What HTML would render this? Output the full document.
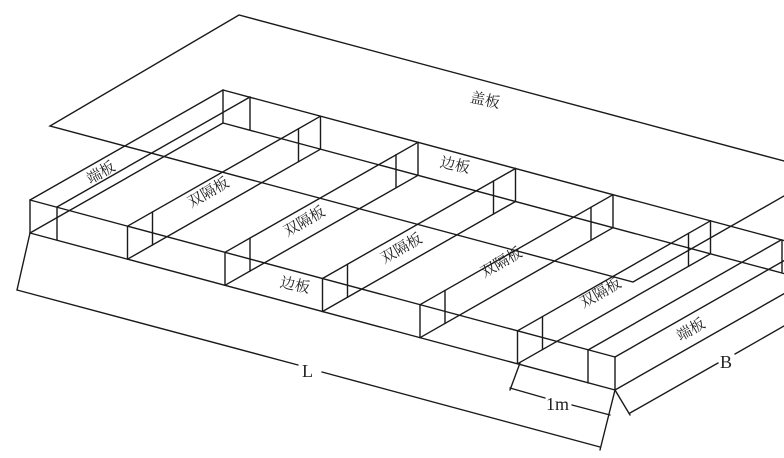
<!DOCTYPE html>
<html><head><meta charset="utf-8"><style>
html,body{margin:0;padding:0;background:#fff;}
svg{display:block;}
text{font-family:"Liberation Serif","Noto Serif CJK SC","Noto Sans CJK SC",serif;fill:#222;}
</style></head><body>
<svg width="784" height="458" viewBox="0 0 784 458" xmlns="http://www.w3.org/2000/svg">
<g stroke="#1a1a1a" stroke-width="1.4" fill="none" stroke-linecap="round">
<polyline points="784,161 239,15 50,126 633,282 784,196"/>
<line x1="30" y1="200" x2="615" y2="357"/>
<line x1="30" y1="233" x2="615" y2="390"/>
<line x1="223" y1="90" x2="808" y2="247"/>
<line x1="223" y1="123" x2="808" y2="280"/>
<line x1="30" y1="200" x2="223" y2="90"/><line x1="30" y1="233" x2="223" y2="123"/>
<line x1="57" y1="207" x2="250" y2="97"/>
<line x1="127.5" y1="226.2" x2="320.5" y2="116.2"/><line x1="127.5" y1="259.2" x2="320.5" y2="149.2"/>
<line x1="225" y1="252.3" x2="418" y2="142.3"/><line x1="225" y1="285.3" x2="418" y2="175.3"/>
<line x1="322.5" y1="278.5" x2="515.5" y2="168.5"/><line x1="322.5" y1="311.5" x2="515.5" y2="201.5"/>
<line x1="420" y1="304.7" x2="613" y2="194.7"/><line x1="420" y1="337.7" x2="613" y2="227.7"/>
<line x1="517.5" y1="330.8" x2="710.5" y2="220.8"/><line x1="517.5" y1="363.8" x2="710.5" y2="253.8"/>
<line x1="615" y1="357" x2="808" y2="247"/><line x1="615" y1="390" x2="808" y2="280"/>
<line x1="588" y1="350" x2="781" y2="240"/>
<line x1="30" y1="200" x2="30" y2="233"/><line x1="57" y1="207" x2="57" y2="240"/>
<line x1="223" y1="90" x2="223" y2="123"/><line x1="250" y1="97" x2="250" y2="130"/>
<line x1="588" y1="350" x2="588" y2="383"/><line x1="615" y1="357" x2="615" y2="390"/>
<line x1="782" y1="240" x2="782" y2="272"/>
<line x1="127.5" y1="226.2" x2="127.5" y2="259.2"/><line x1="152.5" y1="212" x2="152.5" y2="245"/>
<line x1="320.5" y1="116.2" x2="320.5" y2="149.2"/><line x1="298.5" y1="128.7" x2="298.5" y2="161.7"/>
<line x1="225" y1="252.3" x2="225" y2="285.3"/><line x1="250" y1="238.1" x2="250" y2="271.1"/>
<line x1="418" y1="142.3" x2="418" y2="175.3"/><line x1="396" y1="154.8" x2="396" y2="187.8"/>
<line x1="322.5" y1="278.5" x2="322.5" y2="311.5"/><line x1="347.5" y1="264.3" x2="347.5" y2="297.3"/>
<line x1="515.5" y1="168.5" x2="515.5" y2="201.5"/><line x1="493.5" y1="181" x2="493.5" y2="214"/>
<line x1="420" y1="304.7" x2="420" y2="337.7"/><line x1="445" y1="290.5" x2="445" y2="323.5"/>
<line x1="613" y1="194.7" x2="613" y2="227.7"/><line x1="591" y1="207.2" x2="591" y2="240.2"/>
<line x1="517.5" y1="330.8" x2="517.5" y2="363.8"/><line x1="542.5" y1="316.6" x2="542.5" y2="349.6"/>
<line x1="710.5" y1="220.8" x2="710.5" y2="253.8"/><line x1="688.5" y1="233.3" x2="688.5" y2="266.3"/>
<line x1="30" y1="233" x2="17" y2="290"/>
<polyline points="17,290 298,365"/><polyline points="322,372 600,447"/>
<line x1="615" y1="390" x2="600" y2="450"/>
<line x1="520" y1="363" x2="510" y2="390"/>
<line x1="510" y1="388" x2="545" y2="398"/><line x1="572" y1="405" x2="610" y2="415"/>
<line x1="615" y1="390" x2="630" y2="415"/>
<line x1="630" y1="413" x2="718" y2="363"/><line x1="735" y1="354" x2="784" y2="326"/>
</g>
<g font-size="15">
<text x="470" y="104" transform="rotate(12 480 100)">盖板</text>
<text x="86" y="178" transform="rotate(-30 100 173)">端板</text>
<text x="186" y="198" transform="rotate(-30 207 193)">双隔板</text>
<text x="282" y="227" transform="rotate(-30 303 222)">双隔板</text>
<text x="379" y="254" transform="rotate(-30 400 249)">双隔板</text>
<text x="479" y="268" transform="rotate(-30 500 263)">双隔板</text>
<text x="578" y="298" transform="rotate(-30 600 293)">双隔板</text>
<text x="676" y="335" transform="rotate(-30 690 330)">端板</text>
<text x="440" y="170" transform="rotate(12 455 165)">边板</text>
<text x="280" y="290" transform="rotate(12 295 285)">边板</text>
</g>
<g font-size="18">
<text x="302" y="377">L</text>
<text x="546" y="410">1m</text>
<text x="720" y="368">B</text>
</g>
</svg>
</body></html>
